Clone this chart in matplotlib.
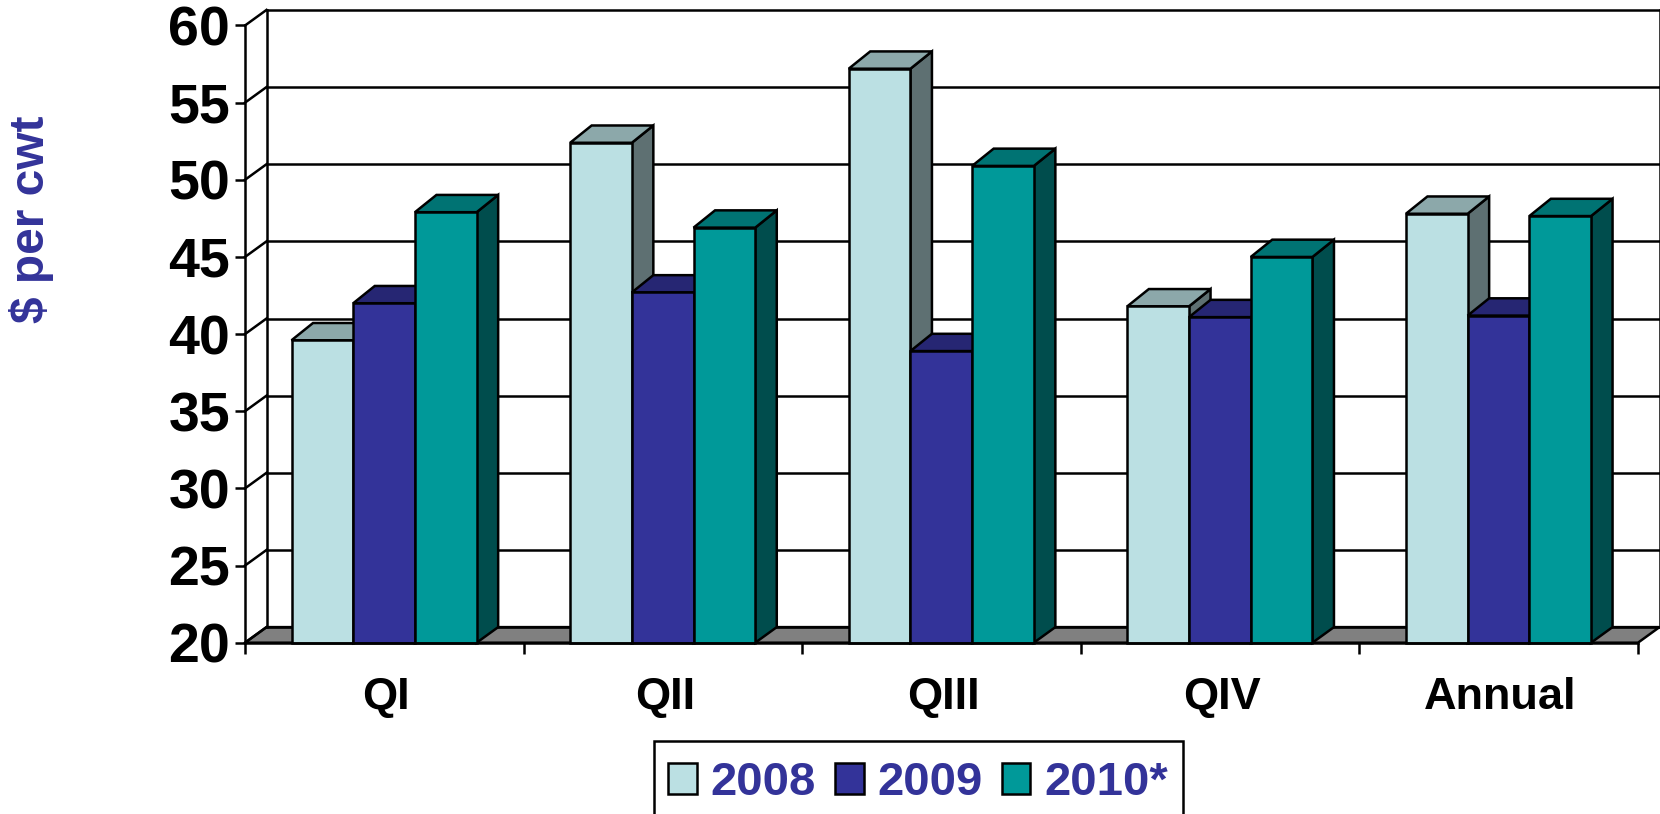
import matplotlib
matplotlib.use("Agg")
import matplotlib.pyplot as plt
from matplotlib.patches import Patch, Rectangle

plt.rcParams["font.family"] = ["Liberation Sans", "DejaVu Sans"]
plt.rcParams["font.weight"] = "bold"

categories = ["QI", "QII", "QIII", "QIV", "Annual"]
series_names = ["2008", "2009", "2010*"]
values_2008 = [39.6, 52.4, 57.2, 41.8, 47.8]
values_2009 = [42.0, 42.7, 38.9, 41.1, 41.2]
values_2010 = [47.9, 46.9, 50.9, 45.0, 47.65]
y_ticks = [20, 25, 30, 35, 40, 45, 50, 55, 60]

front_colors = ["#BBE0E3", "#333399", "#009999"]
top_colors = ["#8CA8AA", "#262673", "#007373"]
side_colors = ["#5E7072", "#1A1A4D", "#004D4D"]

# fake 3D depth, in data units
depth_x = 0.0772
depth_y = 1.01
bar_depth_y = 1.12
bar_width = 0.2215
bar_start = 0.167
line_w = 1.8

fig = plt.figure(figsize=(16.6, 8.14), dpi=100)
ax = fig.add_axes([245 / 1660, (814 - 642.7) / 814, (1638 - 245) / 1660, (642.7 - 25.5) / 814])
ax.set_xlim(0, len(categories))
ax.set_ylim(y_ticks[0], y_ticks[-1])

x_end = len(categories)
y_low = y_ticks[0]

# floor
ax.fill([0, x_end, x_end + depth_x, depth_x],
        [y_low, y_low, y_low + depth_y, y_low + depth_y],
        facecolor="#808080", edgecolor="black", linewidth=line_w, zorder=0.5, clip_on=False)

# back wall, side wall and gridlines
for v in y_ticks:
    ax.plot([depth_x, x_end + depth_x], [v + depth_y, v + depth_y], color="black",
            linewidth=line_w, zorder=0.6, clip_on=False)
    ax.plot([0, depth_x], [v, v + depth_y], color="black", linewidth=line_w, zorder=0.6, clip_on=False)
for xv in [depth_x, x_end + depth_x]:
    ax.plot([xv, xv], [y_low + depth_y, y_ticks[-1] + depth_y], color="black",
            linewidth=line_w, zorder=0.6, clip_on=False)

# bars, back to front so later ones hide the sides of earlier ones
all_values = [values_2008, values_2009, values_2010]
for i in range(len(categories)):
    for s in range(len(all_values)):
        v = all_values[s][i]
        left = i + bar_start + s * bar_width
        right = left + bar_width
        ax.fill([right, right + depth_x, right + depth_x, right],
                [y_low, y_low + depth_y, v + bar_depth_y, v],
                facecolor=side_colors[s], edgecolor="black", linewidth=line_w, zorder=3, clip_on=False)
        ax.fill([left, right, right + depth_x, left + depth_x],
                [v, v, v + bar_depth_y, v + bar_depth_y],
                facecolor=top_colors[s], edgecolor="black", linewidth=line_w, zorder=3, clip_on=False)
        ax.bar(left, v - y_low, width=bar_width, bottom=y_low, align="edge", color=front_colors[s],
               edgecolor="black", linewidth=line_w, zorder=3, clip_on=False)

for name in ["top", "right"]:
    ax.spines[name].set_visible(False)
for name in ["left", "bottom"]:
    ax.spines[name].set_linewidth(line_w)
    ax.spines[name].set_zorder(4)

ax.set_yticks(y_ticks)
ax.tick_params(axis="y", length=7.2, width=line_w, pad=3.6, labelsize=40)
ax.set_xticks(range(len(categories) + 1))
ax.set_xticklabels([])
ax.tick_params(axis="x", length=8, width=line_w)
ax.set_xticks([i + 0.507 for i in range(len(categories))], minor=True)
ax.set_xticklabels(categories, minor=True, fontsize=32.5)
ax.tick_params(axis="x", which="minor", length=0, pad=25)

fig.text(31 / 1660, 1 - 219 / 814, "\\$ per cwt", rotation=90, ha="center", va="center",
         fontsize=34.5, color="#333399")

# legend box runs off the bottom of the picture
fig.add_artist(Rectangle((653.5 / 1660, -0.02), (1182.5 - 653.5) / 1660, 0.02 + (814 - 741) / 814,
                         transform=fig.transFigure, facecolor="white", edgecolor="black",
                         linewidth=line_w))

handles = [Patch(facecolor=front_colors[s], edgecolor="black", linewidth=line_w) for s in range(3)]
leg = fig.legend(handles, series_names, ncol=3, loc="center",
                 bbox_to_anchor=(918 / 1660, 1 - 783 / 814), fontsize=34, labelcolor="#333399",
                 handlelength=0.61, handleheight=0.66, handletextpad=0.3, columnspacing=0.395,
                 borderpad=0.34, borderaxespad=0, frameon=False)

plt.savefig("out.png", dpi=100)
